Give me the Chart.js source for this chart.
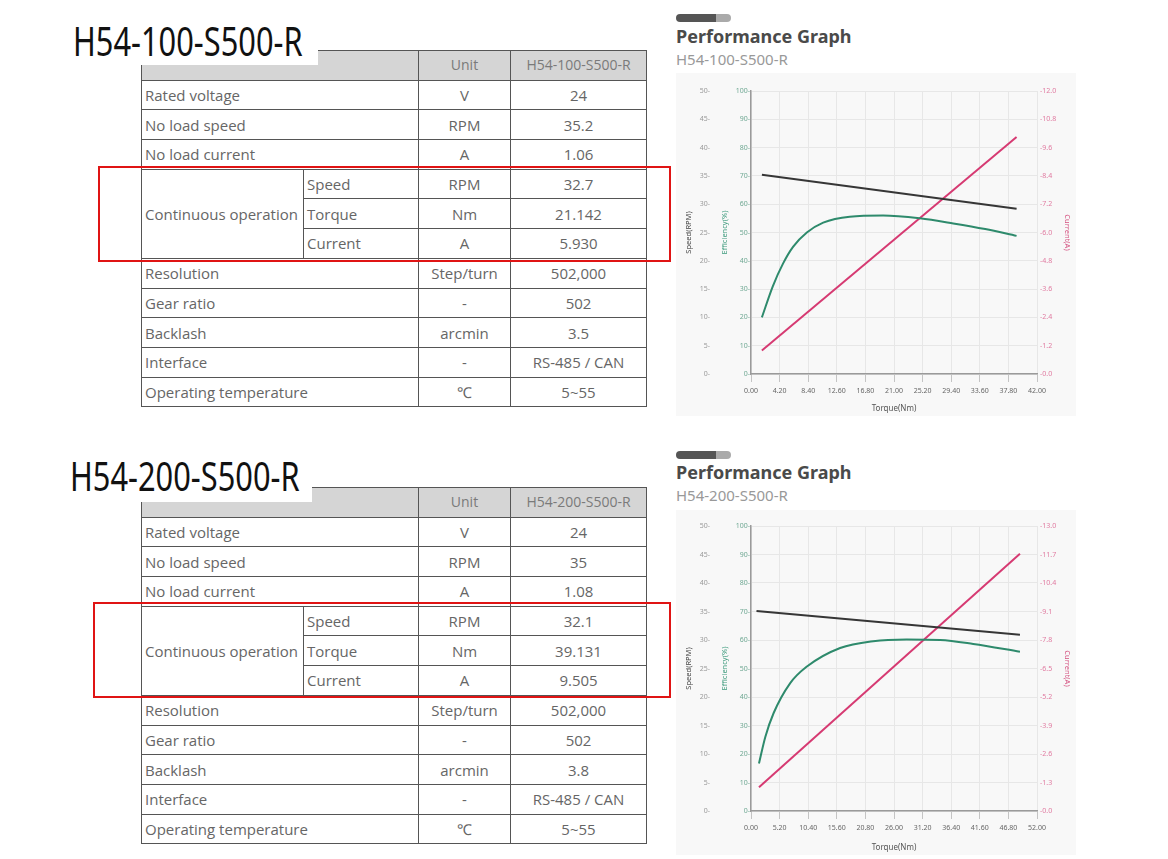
<!DOCTYPE html>
<html>
<head>
<meta charset="utf-8">
<script src="https://cdn.jsdelivr.net/npm/chart.js@4.4.1/dist/chart.umd.min.js"></script>
<style>
  body { margin: 0; width: 1168px; height: 859px; background: #fff; position: relative; overflow: hidden; font-family: 'Open Sans', sans-serif; }
  .model { position: absolute; background: #fff; z-index: 2; }
  .model span { position: absolute; font-family: 'Noto Sans', sans-serif; font-size: 40px; line-height: 40px; color: #111; transform: scaleX(0.77); transform-origin: left top; white-space: nowrap; }
  table.spec { position: absolute; left: 141px; width: 505px; border-collapse: collapse; table-layout: fixed; font-size: 15px; color: #666; z-index: 1; }
  table.spec td { border: 1px solid #555; padding: 0 3px; line-height: 16px; white-space: nowrap; }
  table.spec tr { height: 29.7px; }
  table.spec td.c { text-align: center; }
  table.spec tr.head td { background: #d5d5d5; color: #7a7a7a; font-size: 14px; }
  .redbox { position: absolute; border: 2px solid #e01414; z-index: 3; }
  .bar { position: absolute; width: 55px; height: 8px; border-radius: 4px; background: linear-gradient(to right, #555 0, #555 72%, #aaa 72%, #aaa 100%); }
  .ptitle { position: absolute; font-family: 'Noto Sans', sans-serif; font-weight: bold; font-size: 18px; line-height: 18px; color: #4a4a4a; white-space: nowrap; }
  .psub { position: absolute; font-family: 'Noto Sans', sans-serif; font-size: 15px; line-height: 15px; color: #999; white-space: nowrap; }
  .graph { position: absolute; left: 676px; width: 400px; background: #f8f8f8; }
  .graph canvas { display: block; }
</style>
</head>
<body>

<div class="model" style="left:60px; top:15px; width:258px; height:50px;"><span style="left:13px; top:6px;">H54-100-S500-R</span></div>
<table class="spec" id="spec1" style="top:50px;"></table>
<div class="redbox" style="left:98px; top:166px; width:569px; height:92px;"></div>

<div class="model" style="left:60px; top:450px; width:252px; height:52px;"><span style="left:10px; top:6px;">H54-200-S500-R</span></div>
<table class="spec" id="spec2" style="top:487px;"></table>
<div class="redbox" style="left:93px; top:602px; width:574px; height:92px;"></div>

<div class="bar" style="left:676px; top:14px;"></div>
<div class="ptitle" style="left:676px; top:27px;">Performance Graph</div>
<div class="psub" style="left:676px; top:52px;">H54-100-S500-R</div>
<div class="graph" style="top:73px; height:343px;"><canvas id="graph1" width="400" height="343"></canvas></div>

<div class="bar" style="left:676px; top:451px;"></div>
<div class="ptitle" style="left:676px; top:463px;">Performance Graph</div>
<div class="psub" style="left:676px; top:488px;">H54-200-S500-R</div>
<div class="graph" style="top:510px; height:345px;"><canvas id="graph2" width="400" height="345"></canvas></div>

<script>
// spec tables
const specNames = ['Rated voltage', 'No load speed', 'No load current', 'Speed', 'Torque', 'Current',
  'Resolution', 'Gear ratio', 'Backlash', 'Interface', 'Operating temperature'];
const specUnits = ['V', 'RPM', 'A', 'RPM', 'Nm', 'A', 'Step/turn', '-', 'arcmin', '-', '℃'];
const specValues1 = ['24', '35.2', '1.06', '32.7', '21.142', '5.930', '502,000', '502', '3.5', 'RS-485 / CAN', '5~55'];
const specValues2 = ['24', '35', '1.08', '32.1', '39.131', '9.505', '502,000', '502', '3.8', 'RS-485 / CAN', '5~55'];

// graph 1 (H54-100-S500-R)
const torqueTicks1 = [0, 4.2, 8.4, 12.6, 16.8, 21, 25.2, 29.4, 33.6, 37.8, 42];
const currentTicks1 = [0, 1.2, 2.4, 3.6, 4.8, 6, 7.2, 8.4, 9.6, 10.8, 12];
const speedTorque1 = [1.6, 39.0];
const speed1 = [35.2, 29.2];
const effTorque1 = [1.6, 3.2, 4.7, 6.2, 8.2, 10.6, 14.5, 19.4, 24.8, 29.7, 34.4, 39.0];
const eff1 = [20, 31, 39, 45, 50, 53.5, 55.6, 56, 55, 53.2, 51.2, 48.8];
const currentTorque1 = [1.6, 39.0];
const current1 = [1.0, 10.05];

// graph 2 (H54-200-S500-R)
const torqueTicks2 = [0, 5.2, 10.4, 15.6, 20.8, 26, 31.2, 36.4, 41.6, 46.8, 52];
const currentTicks2 = [0, 1.3, 2.6, 3.9, 5.2, 6.5, 7.8, 9.1, 10.4, 11.7, 13];
const speedTorque2 = [1.0, 48.9];
const speed2 = [35.1, 30.9];
const effTorque2 = [1.45, 2.6, 4.1, 7.1, 10.1, 16.2, 22.2, 28.3, 34.4, 40.4, 48.9];
const eff2 = [16.7, 26, 34.3, 44.8, 50.6, 57.2, 59.6, 60.2, 60, 58.6, 55.9];
const currentTorque2 = [1.45, 48.9];
const current2 = [1.08, 11.73];

const speedTicks = [0, 5, 10, 15, 20, 25, 30, 35, 40, 45, 50];
const effTicks = [0, 10, 20, 30, 40, 50, 60, 70, 80, 90, 100];

function buildTable(id, model, values) {
  let html = '<colgroup><col style="width:162px"><col style="width:115px"><col style="width:92px"><col style="width:136px"></colgroup>';
  html += '<tr class="head"><td colspan="2"></td><td class="c">Unit</td><td class="c">' + model + '</td></tr>';
  specNames.forEach((name, i) => {
    html += '<tr>';
    if (i === 3) html += '<td rowspan="3">Continuous operation</td>';
    if (i >= 3 && i <= 5) html += '<td>' + name + '</td>';
    else html += '<td colspan="2">' + name + '</td>';
    html += '<td class="c">' + specUnits[i] + '</td><td class="c">' + values[i] + '</td></tr>';
  });
  document.getElementById(id).innerHTML = html;
}

buildTable('spec1', 'H54-100-S500-R', specValues1);
buildTable('spec2', 'H54-200-S500-R', specValues2);

const pts = (xs, ys) => xs.map((x, i) => ({ x: x, y: ys[i] }));
const tickFont = { family: 'Noto Sans', size: 7 };
const titleFont = { family: 'Noto Sans', size: 7.5 };

function makeGraph(id, torqueTicks, currentTicks, series, top, xHeight) {
  new Chart(document.getElementById(id), {
    type: 'line',
    data: {
      datasets: [{
        label: 'Speed',
        data: pts(series.speedTorque, series.speed),
        yAxisID: 'speed',
        borderColor: '#363636',
        borderWidth: 2,
        pointRadius: 0
      }, {
        label: 'Efficiency',
        data: pts(series.effTorque, series.eff),
        yAxisID: 'eff',
        borderColor: '#2e8a6c',
        borderWidth: 2,
        pointRadius: 0,
        cubicInterpolationMode: 'monotone'
      }, {
        label: 'Current',
        data: pts(series.currentTorque, series.current),
        yAxisID: 'cur',
        borderColor: '#d63a72',
        borderWidth: 2,
        pointRadius: 0
      }]
    },
    options: {
      responsive: false,
      animation: false,
      devicePixelRatio: 1,
      layout: { padding: { left: 6, right: 2, top: top, bottom: 0 } },
      plugins: {
        legend: { display: false },
        tooltip: { enabled: false }
      },
      scales: {
        x: {
          type: 'linear',
          min: torqueTicks[0],
          max: torqueTicks[torqueTicks.length - 1],
          afterBuildTicks: s => { s.ticks = torqueTicks.map(v => ({ value: v })); },
          afterFit: s => { s.height = xHeight; },
          ticks: { callback: v => v.toFixed(2), font: tickFont, color: '#666', padding: 5, maxRotation: 0, autoSkip: false },
          grid: { color: '#e7e7e7', tickLength: 8, tickColor: '#c4c4c4' },
          border: { color: '#9a9a9a', width: 1.5 },
          title: { display: true, text: 'Torque(Nm)', font: { family: 'Noto Sans', size: 8 }, color: '#555', padding: { top: 0, bottom: 2 } }
        },
        speed: {
          position: 'left',
          weight: 2,
          min: 0,
          max: 50,
          afterBuildTicks: s => { s.ticks = speedTicks.map(v => ({ value: v })); },
          afterFit: s => { s.width = 36; },
          ticks: { callback: v => v + '-', font: tickFont, color: '#999', padding: 8 },
          grid: { display: false, drawTicks: false },
          border: { display: false },
          title: { display: true, text: 'Speed(RPM)', font: titleFont, color: '#444', padding: { top: 2, bottom: 0 } }
        },
        eff: {
          position: 'left',
          weight: 1,
          min: 0,
          max: 100,
          afterBuildTicks: s => { s.ticks = effTicks.map(v => ({ value: v })); },
          afterFit: s => { s.width = 33; },
          ticks: { callback: v => v + '-', font: tickFont, color: '#6fa893', padding: 1 },
          grid: { color: '#e7e7e7', drawTicks: false },
          border: { color: '#9a9a9a', width: 1.5 },
          title: { display: true, text: 'Efficiency(%)', font: titleFont, color: '#3c9a7c', padding: { top: 2, bottom: 0 } }
        },
        cur: {
          position: 'right',
          min: currentTicks[0],
          max: currentTicks[currentTicks.length - 1],
          afterBuildTicks: s => { s.ticks = currentTicks.map(v => ({ value: v })); },
          afterFit: s => { s.width = 37; },
          ticks: { callback: v => '-' + v.toFixed(1), font: tickFont, color: '#e07aa0', padding: 3 },
          grid: { display: false, drawTicks: false },
          border: { display: false },
          title: { display: true, text: 'Current(A)', font: titleFont, color: '#d4507f', padding: { top: 2, bottom: 0 } }
        }
      }
    }
  });
}

makeGraph('graph1', torqueTicks1, currentTicks1, {
  speedTorque: speedTorque1, speed: speed1,
  effTorque: effTorque1, eff: eff1,
  currentTorque: currentTorque1, current: current1
}, 18, 42);

makeGraph('graph2', torqueTicks2, currentTicks2, {
  speedTorque: speedTorque2, speed: speed2,
  effTorque: effTorque2, eff: eff2,
  currentTorque: currentTorque2, current: current2
}, 16, 44);
</script>
</body>
</html>
